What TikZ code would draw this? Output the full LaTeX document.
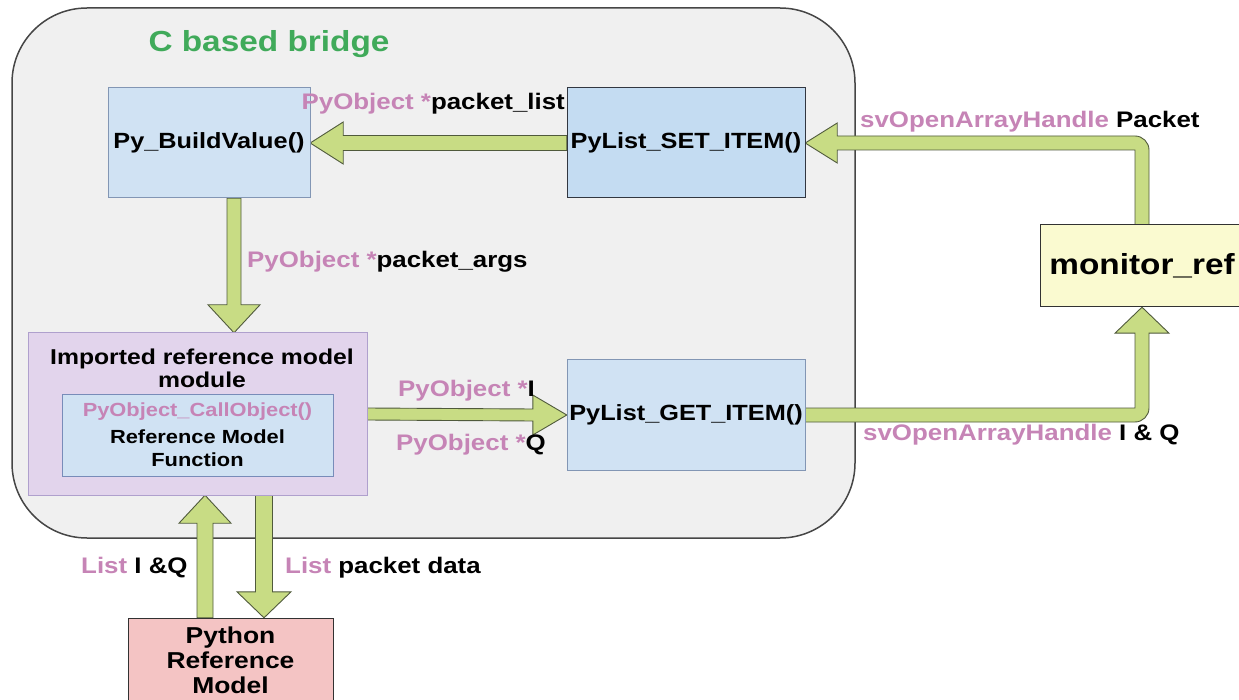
\documentclass[tikz,border=0pt]{standalone}
\usepackage{fontspec}
\setmainfont{Liberation Sans}[FakeStretch=1.15]
\usetikzlibrary{calc}
\definecolor{bridgefill}{RGB}{240,240,240}
\definecolor{bridgeline}{RGB}{70,70,70}
\definecolor{lbfill}{RGB}{208,226,243}
\definecolor{lbline}{RGB}{130,150,180}
\definecolor{setfill}{RGB}{196,220,242}
\definecolor{setline}{RGB}{50,55,65}
\definecolor{modfill}{RGB}{226,212,236}
\definecolor{modline}{RGB}{175,160,205}
\definecolor{innline}{RGB}{120,140,185}
\definecolor{monfill}{RGB}{250,250,208}
\definecolor{darkline}{RGB}{50,50,50}
\definecolor{pyfill}{RGB}{244,196,196}
\definecolor{arfill}{RGB}{200,220,132}
\definecolor{arline}{RGB}{80,90,60}
\definecolor{pinkt}{RGB}{198,132,182}
\definecolor{titlegreen}{RGB}{64,170,90}
\newcommand\pinktext[1]{\textcolor{pinkt}{#1}}
\begin{document}
\begin{tikzpicture}[x=1pt,y=-1pt,
  boxbase/.style={draw, line width=1pt, inner sep=0pt, align=center, font=\fontsize{22}{26}\selectfont\bfseries},
  lblbox/.style={boxbase, fill=lbfill, draw=lbline},
  lbl/.style={inner sep=0pt, font=\fontsize{22.5}{26}\selectfont\bfseries},
  blk/.style={fill=arfill, draw=arline, line width=0.9pt, line join=miter}
]
\clip (0,0) rectangle (1239,700);
\useasboundingbox (0,0) rectangle (1239,700);
\fill[white] (0,0) rectangle (1239,700);

% container
\node[draw=bridgeline, fill=bridgefill, line width=1.5pt, rounded corners=75pt,
  minimum width=843pt, minimum height=530pt, inner sep=0pt] (bridge) at (433.5,273) {};
\node[inner sep=0pt, text=titlegreen, font=\fontsize{29}{32}\selectfont\bfseries] (title) at (269,44) {C based bridge};

% node positions
\coordinate (bvc) at (209,143);
\coordinate (setc) at (686,143);
\coordinate (getc) at (686,415);
\coordinate (modc) at (197.5,414);
\coordinate (monc) at (1142,266);
\coordinate (pyc) at (230.5,660);

\path (bvc) node[minimum width=202pt, minimum height=110pt, inner sep=0pt] (bv) {};
\path (setc) node[minimum width=238pt, minimum height=110pt, inner sep=0pt] (set) {};
\path (getc) node[minimum width=238pt, minimum height=110pt, inner sep=0pt] (get) {};
\path (modc) node[minimum width=339pt, minimum height=162pt, inner sep=0pt] (mod) {};
\path (monc) node[minimum width=204pt, minimum height=82pt, inner sep=0pt] (mon) {};
\path (pyc) node[minimum width=205pt, minimum height=84pt, inner sep=0pt] (py) {};

% arrow 1: SET -> BV
\draw[blk] ($(set.west)+(0,-7.5)$) -- ($(bv.east)+(33,-7.5)$) -- ($(bv.east)+(33,-21)$) -- (bv.east)
  -- ($(bv.east)+(33,21)$) -- ($(bv.east)+(33,7.5)$) -- ($(set.west)+(0,7.5)$) -- cycle;
% arrow 2: BV -> MOD
\coordinate (a2s) at ($(bv.south)+(25,0)$);
\coordinate (a2e) at (a2s |- mod.north);
\draw[blk] ($(a2s)+(-7,0)$) -- ($(a2e)+(-7,-28)$) -- ($(a2e)+(-26,-28)$) -- (a2e)
  -- ($(a2e)+(26,-28)$) -- ($(a2e)+(7,-28)$) -- ($(a2s)+(7,0)$) -- cycle;
% arrow 3: MOD -> GET
\draw[blk] ($(mod.east)+(0,-6)$) -- ($(get.west)+(-34,-6)$) -- ($(get.west)+(-34,-20)$) -- (get.west)
  -- ($(get.west)+(-34,20)$) -- ($(get.west)+(-34,6)$) -- ($(mod.east)+(0,6)$) -- cycle;
% arrow 4: GET -> MON
\coordinate (c4) at (get.east -| mon.south);
\draw[blk] ($(get.east)+(0,-7)$) -- ($(c4)+(-7,-7)$) -- ($(mon.south)+(-7,26)$) -- ($(mon.south)+(-27,26)$)
  -- (mon.south) -- ($(mon.south)+(27,26)$) -- ($(mon.south)+(7,26)$) -- ($(c4)+(7,-7)$)
  .. controls ($(c4)+(7,0.7)$) and ($(c4)+(0.7,7)$) .. ($(c4)+(-7,7)$) -- ($(get.east)+(0,7)$) -- cycle;
% arrow 5: MON -> SET
\coordinate (c5) at (mon.north |- set.east);
\draw[blk] ($(mon.north)+(-7,0)$) -- ($(c5)+(-7,7)$) -- ($(set.east)+(32,7)$) -- ($(set.east)+(32,20)$)
  -- (set.east) -- ($(set.east)+(32,-20)$) -- ($(set.east)+(32,-7)$) -- ($(c5)+(-7,-7)$)
  .. controls ($(c5)+(0.7,-7)$) and ($(c5)+(7,-0.7)$) .. ($(c5)+(7,7)$) -- ($(mon.north)+(7,0)$) -- cycle;
% arrow 6: PY -> MOD
\coordinate (a6s) at ($(py.north)+(-25.5,0)$);
\coordinate (a6e) at (a6s |- mod.south);
\draw[blk] ($(a6s)+(-8,0)$) -- ($(a6e)+(-8,28)$) -- ($(a6e)+(-26,28)$) -- (a6e)
  -- ($(a6e)+(26,28)$) -- ($(a6e)+(8,28)$) -- ($(a6s)+(8,0)$) -- cycle;
% arrow 7: MOD -> PY
\coordinate (a7e) at ($(py.north)+(33.5,0)$);
\coordinate (a7s) at (a7e |- mod.south);
\draw[blk] ($(a7s)+(-8.5,0)$) -- ($(a7e)+(-8.5,-26)$) -- ($(a7e)+(-27,-26)$) -- (a7e)
  -- ($(a7e)+(27,-26)$) -- ($(a7e)+(8.5,-26)$) -- ($(a7s)+(8.5,0)$) -- cycle;

% boxes
\node[lblbox, minimum width=202pt, minimum height=110pt] at (bv) {Py\_BuildValue()};
\node[boxbase, fill=setfill, draw=setline, minimum width=238pt, minimum height=110pt] at (set) {PyList\_SET\_ITEM()};
\node[lblbox, minimum width=238pt, minimum height=110pt] at (get) {PyList\_GET\_ITEM()};
\node[boxbase, fill=modfill, draw=modline, minimum width=339pt, minimum height=162pt] at (mod) {};
\node[inner sep=0pt, align=center, font=\fontsize{21.5}{23}\selectfont\bfseries] (modt) at (202,368.5) {Imported reference model\\module};
\node[boxbase, fill=lbfill, draw=innline, minimum width=271pt, minimum height=82pt,
  font=\fontsize{19}{23}\selectfont\bfseries] (inner) at (197.5,435)
  {\pinktext{PyObject\_CallObject()}\\[4pt]Reference Model\\Function};
\node[boxbase, fill=monfill, draw=darkline, minimum width=204pt, minimum height=82pt,
  font=\fontsize{29}{32}\selectfont\bfseries] at (mon) {monitor\_ref};
\node[boxbase, fill=pyfill, draw=darkline, minimum width=205pt, minimum height=84pt,
  font=\fontsize{23}{25}\selectfont\bfseries] at (py) {Python\\Reference\\Model};

% labels
\node[lbl, anchor=east] (l1) at (565,104) {\pinktext{PyObject *}packet\_list};
\node[lbl, anchor=west] (l2) at (247,262) {\pinktext{PyObject *}packet\_args};
\node[lbl, anchor=west] (l3) at (398,391) {\pinktext{PyObject *}I};
\node[lbl, anchor=west] (l4) at (396,445) {\pinktext{PyObject *}Q};
\node[lbl, anchor=west] (l5) at (860,122) {\pinktext{svOpenArrayHandle} Packet};
\node[lbl, anchor=west] (l6) at (863,435) {\pinktext{svOpenArrayHandle} I \& Q};
\node[lbl, anchor=west] (l7) at (81,568) {\pinktext{List} I \&Q};
\node[lbl, anchor=west] (l8) at (285,568) {\pinktext{List} packet data};
\end{tikzpicture}
\end{document}
